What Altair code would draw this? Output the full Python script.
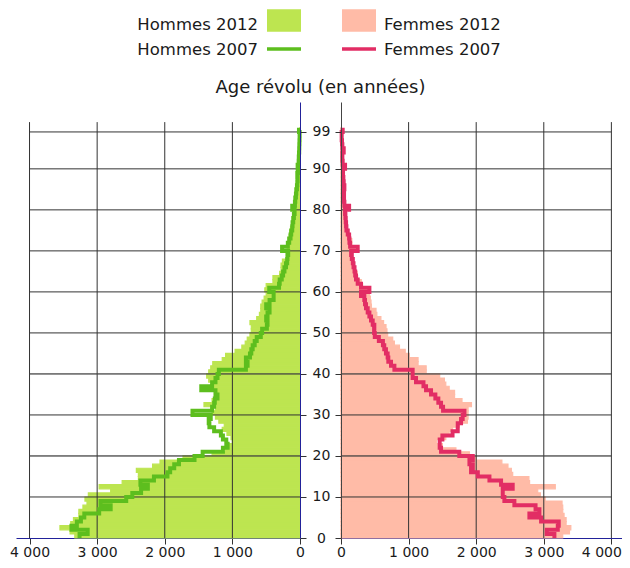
import altair as alt
import pandas as pd

ages = list(range(100))

hommes_2012 = [3330, 3400, 3550, 3390, 3350, 3270, 3270, 3210, 3150, 3180,
               3130, 2800, 2970, 2630, 2390, 2390, 2420, 2180, 2070, 1730,
               1300, 1100, 1050, 1000, 1020, 1080, 1150, 1120, 1200, 1250,
               1300, 1250, 1420, 1300, 1220, 1250, 1300, 1280, 1350, 1380,
               1350, 1320, 1290, 1150, 1100, 960, 860, 810, 780, 740,
               720, 720, 740, 640, 600, 580, 580, 560, 530, 500,
               520, 500, 400, 400, 300, 280, 280, 260, 200, 200,
               190, 170, 170, 160, 150, 140, 120, 110, 100, 90,
               80, 75, 70, 60, 55, 50, 45, 40, 35, 30,
               25, 20, 15, 12, 10, 8, 6, 5, 3, 3]

hommes_2007 = [3260, 3140, 3380, 3300, 3240, 3190, 2970, 2800, 2950, 2570,
               2480, 2350, 2250, 2360, 2160, 1960, 1920, 1860, 1790, 1560,
               1440, 1140, 1070, 1090, 1140, 1170, 1270, 1340, 1350, 1320,
               1590, 1300, 1270, 1260, 1220, 1250, 1460, 1300, 1250, 1220,
               1200, 800, 775, 800, 740, 720, 700, 670, 640, 580,
               560, 490, 480, 500, 480, 450, 500, 450, 390, 390,
               455, 310, 300, 270, 250, 230, 207, 190, 185, 175,
               265, 180, 160, 140, 130, 115, 110, 100, 90, 80,
               115, 75, 70, 60, 55, 45, 40, 35, 40, 30,
               35, 20, 18, 15, 12, 10, 8, 6, 5, 15]

femmes_2012 = [3280, 3380, 3400, 3330, 3330, 3300, 3280, 3280, 3270, 3020,
               2950, 2910, 3170, 2790, 2780, 2540, 2520, 2470, 2380, 2000,
               1900, 1700, 1500, 1410, 1550, 1600, 1650, 1750, 1870, 1880,
               1880, 1880, 1930, 1790, 1680, 1680, 1600, 1550, 1530, 1460,
               1260, 1260, 1140, 1140, 1010, 950, 865, 790, 765, 690,
               680, 666, 630, 590, 530, 518, 450, 444, 434, 420,
               420, 320, 300, 247, 240, 200, 180, 160, 155, 150,
               197, 160, 160, 140, 110, 90, 80, 70, 60, 50,
               40, 35, 30, 28, 25, 20, 18, 15, 12, 10,
               10, 8, 6, 5, 4, 3, 2, 2, 1, 1]

femmes_2007 = [3157, 3044, 3207, 3221, 2960, 2787, 2935, 2878, 2565, 2417,
               2393, 2393, 2540, 2368, 2196, 2024, 1924, 1950, 1900, 1950,
               1750, 1480, 1460, 1460, 1500, 1650, 1727, 1727, 1776, 1800,
               1826, 1510, 1480, 1440, 1396, 1332, 1258, 1220, 1110, 1060,
               1060, 790, 740, 700, 690, 665, 640, 620, 560, 500,
               490, 493, 469, 444, 420, 395, 370, 355, 345, 296,
               420, 296, 247, 222, 210, 200, 185, 175, 160, 150,
               247, 135, 125, 120, 100, 80, 75, 70, 65, 60,
               120, 50, 45, 40, 45, 50, 40, 35, 30, 30,
               60, 25, 20, 20, 40, 20, 15, 10, 10, 25]

age_ticks = [0, 10, 20, 30, 40, 50, 60, 70, 80, 90, 99]
value_ticks = [0, 1000, 2000, 3000, 4000]
legend_labels = ["Hommes 2012", "Hommes 2007", "Femmes 2012", "Femmes 2007"]
axis_title = "Age révolu (en années)"

FONT = "DejaVu Sans"
BLUE = "#22229a"
GRID = "#333333"
TXT = "#1a1a1a"
GREEN_FILL = "#bde550"
GREEN_LINE = "#5dbe1e"
PINK_FILL = "#ffbba7"
PINK_LINE = "#e22d64"

PH = 436
YMAX = 106.3
GAP = 41


def panel(v12, v07, fill, stroke, left, width, xmax):
    xs = alt.Scale(domain=[0, xmax], reverse=left, nice=False, zero=False)
    ys = alt.Scale(domain=[0, YMAX], nice=False, zero=False)
    xaxis = alt.Axis(values=value_ticks, grid=False, title=None,
                     labelExpr="replace(format(datum.value, ','), ',', ' ')",
                     domainColor=BLUE, domainWidth=1, tickColor=GRID, tickSize=6,
                     labelFont=FONT, labelFontSize=14, labelColor=TXT,
                     labelPadding=1, labelFlush=False, zindex=0,
                     labelOffset=0 if left else {"condition": {"test": "datum.value == 4000", "value": -10}, "value": 0})
    yaxis = alt.Axis(values=age_ticks, grid=False, title=None,
                     orient="right" if left else "left",
                     labels=left, labelAlign="center", labelBaseline="middle",
                     labelPadding=15, labelFont=FONT, labelFontSize=14,
                     labelColor=TXT, tickSize=6, tickColor=GRID,
                     domainColor=BLUE if left else "#444444", domainWidth=1,
                     zindex=1)

    bars_df = pd.DataFrame({"age": ages, "top": [a + 1 for a in ages], "v": v12})
    line_df = pd.DataFrame({"age": ages + [100], "v": list(v07) + [v07[-1]]})
    gh_df = pd.DataFrame({"age": age_ticks[1:]})
    gv_df = pd.DataFrame({"v": value_ticks[1:]})
    over_df = pd.DataFrame({"age": [20, 40]})

    bars = alt.Chart(bars_df).mark_rect(color=fill, stroke=fill, strokeWidth=1.2).encode(
        x=alt.X("v:Q", scale=xs, axis=xaxis),
        x2=alt.X2(datum=0),
        y=alt.Y("age:Q", scale=ys, axis=yaxis),
        y2="top:Q",
    )
    grid_h = alt.Chart(gh_df).mark_rule(color=GRID, strokeWidth=1).encode(
        y=alt.Y("age:Q", scale=ys, axis=yaxis),
        x=alt.X(datum=0, type="quantitative", scale=xs, axis=xaxis),
        x2=alt.X2(datum=4000),
    )
    grid_v = alt.Chart(gv_df).mark_rule(color=GRID, strokeWidth=1).encode(
        x=alt.X("v:Q", scale=xs, axis=xaxis),
        y=alt.Y(datum=0, type="quantitative", scale=ys, axis=yaxis),
        y2=alt.Y2(datum=101.4),
    )
    overlay = alt.Chart(over_df).mark_rule(color="#555555", strokeWidth=1, opacity=0.55).encode(
        y=alt.Y("age:Q", scale=ys, axis=yaxis),
        x=alt.X(datum=0, type="quantitative", scale=xs, axis=xaxis),
        x2=alt.X2(datum=4000),
    )
    line = alt.Chart(line_df).mark_line(color=stroke, strokeWidth=4,
                                         interpolate="step-before",
                                         strokeJoin="miter", strokeCap="butt").encode(
        x=alt.X("v:Q", scale=xs, axis=xaxis),
        y=alt.Y("age:Q", scale=ys, axis=yaxis),
        order=alt.Order("age:Q"),
    )
    return alt.layer(bars, grid_h, grid_v, overlay, line).properties(width=width, height=PH)


left = panel(hommes_2012, hommes_2007, GREEN_FILL, GREEN_LINE, True, 284, 4200)
right = panel(femmes_2012, femmes_2007, PINK_FILL, PINK_LINE, False, 281, 4157)

# Header: legend + central axis title
one = pd.DataFrame({"k": [0]})
base = alt.Chart(one)


def txt(s, x, y, align, size=16.5):
    return base.mark_text(text=s, align=align, baseline="alphabetic", font=FONT,
                          fontSize=size, color=TXT).encode(x=alt.value(x), y=alt.value(y))


header = alt.layer(
    txt(legend_labels[0], 242, 21.5, "right"),
    txt(legend_labels[1], 242, 47, "right"),
    txt(legend_labels[2], 368, 21.5, "left"),
    txt(legend_labels[3], 368, 47, "left"),
    base.mark_rect(color=GREEN_FILL).encode(x=alt.value(251), x2=alt.value(285),
                                            y=alt.value(1.3), y2=alt.value(23.7)),
    base.mark_rect(color=PINK_FILL).encode(x=alt.value(326), x2=alt.value(360),
                                           y=alt.value(1.3), y2=alt.value(23.7)),
    base.mark_rule(color=GREEN_LINE, strokeWidth=3.5).encode(x=alt.value(251), x2=alt.value(285),
                                                             y=alt.value(41)),
    base.mark_rule(color=PINK_LINE, strokeWidth=3.5).encode(x=alt.value(326), x2=alt.value(360),
                                                            y=alt.value(41)),
    txt(axis_title, 304.5, 85, "center", 18),
).properties(width=284 + GAP + 281, height=94)

panels = alt.hconcat(left, right, spacing=GAP, bounds="flush")
chart = alt.vconcat(header, panels, spacing=0, bounds="flush").properties(
    padding={"left": 1, "top": 0, "right": 0, "bottom": 0}
).configure_view(strokeWidth=0)

chart.save("out.html", embed_options={"renderer": "svg", "actions": False})
